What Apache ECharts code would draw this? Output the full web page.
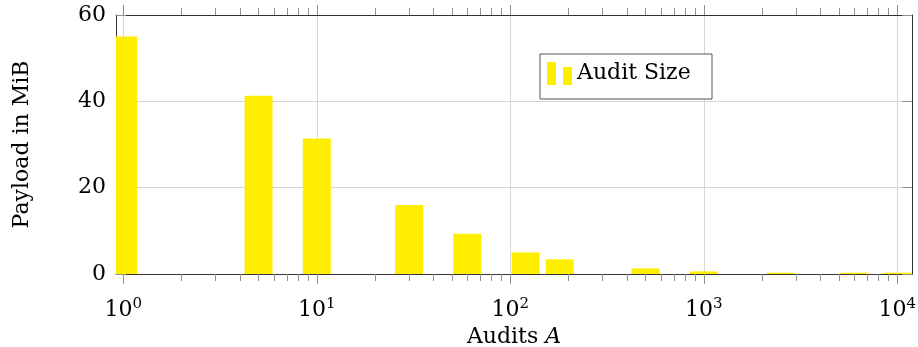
<!DOCTYPE html>
<html><head><meta charset="utf-8">
<script src="https://cdn.jsdelivr.net/npm/echarts@6/dist/echarts.min.js"></script>
<style>html,body{margin:0;padding:0;background:#fff}#c{width:918px;height:347px}</style>
</head><body><div id="c"></div>
<script>
// Data
const audits = [1, 5, 10, 30, 60, 120, 180, 500, 1000, 2500, 6000, 10000];
const payloadMiB = [55, 41.3, 31.4, 16, 9.3, 5.0, 3.4, 1.3, 0.6, 0.3, 0.3, 0.3];
const xMajorTicks = [1, 10, 100, 1000, 10000];
const yTicks = [0, 20, 40, 60];
const seriesName = 'Audit Size';

// standard log minor ticks (2..9 per decade)
const xMinorTicks = [];
[1, 10, 100, 1000].forEach(d => { for (let m = 2; m <= 9; m++) xMinorTicks.push(m * d); });

const xMin = 0.917, xMax = 11910;
const FF = "'DejaVu Serif', serif";
const AX = '#333333', TK = '#8f8f8f', GR = '#d6d6d6';
const BAR_COLOR = '#ffee00';

const chart = echarts.init(document.getElementById('c'), null, {renderer: 'canvas'});

function logAxis(pos, ticks, len, showLine, extra) {
  return Object.assign({
    type: 'log', logBase: 10, position: pos, min: xMin, max: xMax,
    axisLine: {show: showLine, onZero: false, lineStyle: {color: AX, width: 1}},
    axisTick: {show: true, inside: false, length: len, customValues: ticks, lineStyle: {color: TK, width: 1}},
    axisLabel: {show: false},
    splitLine: {show: false},
    minorTick: {show: false}
  }, extra || {});
}

const option = {
  animation: false,
  backgroundColor: '#fff',
  grid: {left: 116, right: 6, top: 15, bottom: 73, containLabel: false, outerBoundsMode: 'none'},
  legend: {
    left: 540, top: 54, orient: 'horizontal',
    padding: [8, 16, 14, 7],
    borderColor: '#555', borderWidth: 1, borderRadius: 0, backgroundColor: '#fff',
    itemWidth: 25, itemHeight: 23,
    icon: 'path://M0,0H9V23H0Z M16,5H25V23H16Z',
    textStyle: {fontFamily: FF, fontSize: 22, color: '#000', width: 119, lineHeight: 23},
    data: [seriesName]
  },
  xAxis: [
    logAxis('bottom', xMajorTicks, 10, true, {
      axisLabel: {
        show: true, customValues: xMajorTicks, margin: 23,
        formatter: v => '{b|10}{s|' + Math.round(Math.log10(v)) + '}',
        rich: {
          b: {fontFamily: FF, fontSize: 22, color: '#000', lineHeight: 26},
          s: {fontFamily: FF, fontSize: 15, color: '#000', lineHeight: 15, verticalAlign: 'top'}
        }
      },
      splitLine: {show: true, lineStyle: {color: GR, width: 1}},
      name: '{r|Audits }{i|A}', nameLocation: 'middle', nameGap: 41,
      nameTextStyle: {
        rich: {
          r: {fontFamily: FF, fontSize: 22, color: '#000'},
          i: {fontFamily: FF, fontSize: 22, color: '#000', fontStyle: 'italic'}
        }
      }
    }),
    logAxis('bottom', xMinorTicks, 7, false),
    logAxis('top', xMajorTicks, 10, true),
    logAxis('top', xMinorTicks, 7, false)
  ],
  yAxis: [
    {
      type: 'value', position: 'left', min: yTicks[0], max: yTicks[yTicks.length - 1], interval: 20,
      axisLine: {show: true, lineStyle: {color: AX, width: 1}},
      axisTick: {show: true, inside: true, length: 10, lineStyle: {color: TK}},
      axisLabel: {margin: 10, fontFamily: FF, fontSize: 22, color: '#000'},
      splitLine: {show: true, lineStyle: {color: GR, width: 1}},
      name: 'Payload in MiB', nameLocation: 'middle', nameGap: 83,
      nameTextStyle: {fontFamily: FF, fontSize: 22, color: '#000'}
    },
    {
      type: 'value', position: 'right', min: yTicks[0], max: yTicks[yTicks.length - 1], interval: 20,
      axisLine: {show: true, lineStyle: {color: AX, width: 1}},
      axisTick: {show: true, inside: true, length: 10, lineStyle: {color: TK}},
      axisLabel: {show: false},
      splitLine: {show: false}
    }
  ],
  series: [{
    name: seriesName, type: 'custom', xAxisIndex: 0, yAxisIndex: 0,
    clip: true,
    itemStyle: {color: BAR_COLOR},
    encode: {x: 0, y: 1},
    renderItem: function (params, api) {
      const xv = api.value(0), yv = api.value(1);
      const top = api.coord([xv, yv]);
      const base = api.coord([xv, 0]);
      const w = 28;
      return {
        type: 'rect',
        shape: {x: top[0] - w / 2, y: top[1], width: w, height: base[1] - top[1]},
        style: {fill: BAR_COLOR}
      };
    },
    data: audits.map((a, i) => [a, payloadMiB[i]])
  }]
};
chart.setOption(option);
</script></body></html>
